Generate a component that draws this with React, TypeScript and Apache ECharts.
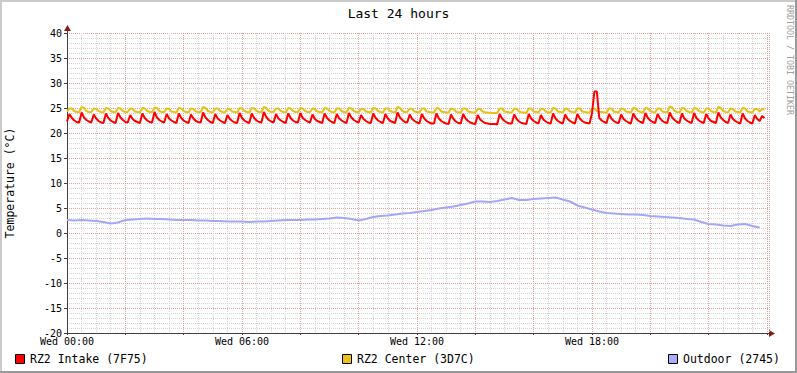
import React, { useEffect, useRef } from "react";
import * as echarts from "echarts";

// ---- data ----
const TITLE = "Last 24 hours";
const Y_NAME = "Temperature (°C)";
const WATERMARK = "RRDTOOL / TOBI OETIKER";
const SERIES_NAMES = ["RZ2 Intake (7F75)", "RZ2 Center (3D7C)", "Outdoor (2745)"];
const SERIES_COLORS = ["#FF0000", "#EAC117", "#A6A6F6"];
const LEGEND_BOX_COLORS = ["#FF0000", "#EAC117", "#AAAAFF"];
const X_LABEL_DAY = "Wed";
const TEMP_STEP_H = 5 / 60; // 5-minute samples
const OUT_STEP_H = 0.25; // 15-minute samples
const X_MAX_H = 24.07;
const Y_MIN = -20;
const Y_MAX = 40;

// RZ2 Intake (one row per hour, 5-minute samples)
const intake = [
  22.3, 23.8, 23.0, 22.5, 22.2, 22.1, 24.1, 23.1, 22.6, 22.3, 22.1, 23.7,
  22.9, 22.4, 22.1, 22.0, 23.9, 23.0, 22.5, 22.2, 22.0, 24.0, 23.1, 22.6,
  22.2, 22.1, 23.6, 22.8, 22.4, 22.2, 22.0, 23.9, 23.0, 22.5, 22.2, 22.1,
  24.2, 23.1, 22.6, 22.3, 22.1, 23.8, 22.9, 22.5, 22.2, 22.0, 23.9, 23.0,
  22.5, 22.2, 22.0, 23.7, 22.9, 22.4, 22.2, 22.1, 24.1, 23.1, 22.6, 22.2,
  22.0, 23.8, 22.9, 22.5, 22.2, 22.0, 23.6, 22.8, 22.4, 22.1, 22.0, 24.0,
  23.0, 22.5, 22.2, 22.0, 23.9, 23.0, 22.5, 22.2, 22.1, 24.2, 23.2, 22.6,
  22.3, 22.1, 23.8, 22.9, 22.5, 22.2, 22.0, 23.9, 23.0, 22.5, 22.2, 22.1,
  24.0, 23.0, 22.6, 22.3, 22.1, 23.7, 22.8, 22.4, 22.2, 22.0, 23.9, 23.0,
  22.5, 22.2, 22.0, 23.8, 22.9, 22.5, 22.2, 22.0, 24.0, 23.1, 22.6, 22.3,
  22.1, 23.6, 22.8, 22.4, 22.1, 22.0, 23.9, 23.0, 22.5, 22.2, 22.0, 23.8,
  22.9, 22.4, 22.2, 22.0, 24.1, 23.1, 22.6, 22.2, 22.1, 23.7, 22.8, 22.4,
  22.1, 21.9, 23.8, 22.9, 22.4, 22.1, 21.9, 21.9, 23.9, 22.9, 22.4, 22.1,
  21.9, 21.8, 23.7, 22.8, 22.3, 22.0, 21.9, 23.8, 22.9, 22.4, 22.1, 21.9,
  21.8, 23.6, 22.7, 22.3, 22.0, 21.9, 21.8, 21.8, 21.8, 21.7, 23.8, 22.9,
  22.4, 22.1, 21.9, 21.9, 23.7, 22.8, 22.3, 22.0, 21.9, 21.8, 23.8, 22.9,
  22.4, 22.1, 21.9, 23.6, 22.7, 22.3, 22.0, 21.9, 23.9, 22.9, 22.4, 22.1,
  21.9, 23.7, 22.8, 22.4, 22.1, 21.9, 23.8, 22.9, 22.4, 22.1, 22.0, 21.9,
  23.9, 28.3, 28.3, 23.0, 22.5, 22.2, 22.0, 23.8, 22.9, 22.4, 22.1, 22.0,
  23.7, 22.8, 22.4, 22.1, 21.9, 23.9, 23.0, 22.5, 22.2, 22.0, 24.0, 23.0,
  22.5, 22.2, 22.0, 23.8, 22.9, 22.4, 22.1, 22.0, 24.1, 23.1, 22.6, 22.2,
  22.0, 23.9, 22.9, 22.5, 22.2, 22.0, 24.0, 23.0, 22.5, 22.2, 22.0, 23.8,
  22.9, 22.4, 22.2, 22.0, 24.1, 23.1, 22.6, 22.2, 22.0, 23.7, 22.8, 22.4,
  22.1, 21.9, 23.9, 22.9, 22.4, 22.1, 21.9, 23.6, 22.8, 22.4, 23.4, 23.0,
];

// RZ2 Center (one row per hour, 5-minute samples)
const center = [
  24.3, 24.9, 24.9, 24.4, 24.2, 24.2, 25.2, 25.0, 24.4, 24.2, 24.2, 24.9,
  24.8, 24.4, 24.2, 24.1, 25.0, 24.9, 24.4, 24.2, 24.2, 25.0, 24.9, 24.4,
  24.2, 24.2, 24.9, 24.8, 24.3, 24.2, 24.1, 25.0, 24.9, 24.4, 24.2, 24.2,
  25.1, 25.0, 24.4, 24.2, 24.2, 24.9, 24.8, 24.3, 24.2, 24.1, 25.0, 24.9,
  24.4, 24.2, 24.1, 24.9, 24.8, 24.3, 24.2, 24.2, 25.2, 25.0, 24.4, 24.2,
  24.1, 24.9, 24.9, 24.4, 24.2, 24.1, 24.8, 24.8, 24.3, 24.2, 24.1, 25.0,
  24.9, 24.4, 24.2, 24.1, 25.0, 24.9, 24.4, 24.2, 24.2, 25.2, 25.0, 24.4,
  24.2, 24.2, 24.9, 24.9, 24.4, 24.2, 24.1, 25.0, 24.9, 24.4, 24.2, 24.2,
  25.0, 24.9, 24.4, 24.2, 24.2, 24.9, 24.8, 24.3, 24.2, 24.1, 25.0, 24.9,
  24.4, 24.2, 24.1, 24.9, 24.9, 24.4, 24.2, 24.1, 25.0, 24.9, 24.4, 24.2,
  24.2, 24.8, 24.8, 24.3, 24.2, 24.1, 25.0, 24.9, 24.4, 24.2, 24.1, 24.9,
  24.9, 24.4, 24.2, 24.1, 25.2, 25.0, 24.4, 24.2, 24.2, 24.9, 24.8, 24.3,
  24.2, 24.1, 24.9, 24.9, 24.3, 24.2, 24.1, 24.1, 25.0, 24.9, 24.3, 24.2,
  24.1, 24.1, 24.9, 24.8, 24.3, 24.1, 24.1, 24.9, 24.9, 24.3, 24.2, 24.1,
  24.1, 24.8, 24.8, 24.3, 24.1, 24.1, 24.0, 24.0, 24.0, 24.0, 24.9, 24.9,
  24.3, 24.2, 24.1, 24.1, 24.9, 24.8, 24.3, 24.1, 24.1, 24.0, 24.9, 24.9,
  24.3, 24.2, 24.1, 24.8, 24.8, 24.3, 24.1, 24.1, 25.0, 24.9, 24.3, 24.2,
  24.1, 24.9, 24.8, 24.3, 24.2, 24.1, 24.9, 24.9, 24.3, 24.2, 24.1, 24.1,
  24.9, 24.9, 24.4, 24.2, 24.2, 24.1, 24.1, 24.9, 24.9, 24.3, 24.2, 24.1,
  24.9, 24.8, 24.3, 24.2, 24.1, 25.0, 24.9, 24.4, 24.2, 24.1, 25.0, 24.9,
  24.4, 24.2, 24.1, 24.9, 24.9, 24.3, 24.2, 24.1, 25.3, 25.1, 24.4, 24.2,
  24.1, 25.0, 24.9, 24.4, 24.2, 24.1, 25.0, 24.9, 24.4, 24.2, 24.1, 24.9,
  24.9, 24.4, 24.2, 24.1, 25.2, 25.0, 24.4, 24.2, 24.1, 24.9, 24.8, 24.3,
  24.2, 24.1, 25.0, 24.9, 24.3, 24.2, 24.1, 24.8, 24.8, 24.3, 24.8, 24.7,
];

// Outdoor (one row per hour, 15-minute samples)
const outdoor = [
  2.6, 2.5, 2.6, 2.5,
  2.4, 2.2, 1.9, 2.1,
  2.6, 2.7, 2.8, 2.9,
  2.8, 2.8, 2.7, 2.6,
  2.6, 2.6, 2.5, 2.5,
  2.4, 2.4, 2.3, 2.3,
  2.3, 2.2, 2.3, 2.3,
  2.4, 2.5, 2.6, 2.6,
  2.6, 2.7, 2.7, 2.8,
  2.9, 3.1, 3.0, 2.8,
  2.5, 2.8, 3.2, 3.4,
  3.5, 3.7, 3.9, 4.0,
  4.2, 4.4, 4.6, 4.9,
  5.1, 5.3, 5.6, 5.9,
  6.3, 6.3, 6.2, 6.4,
  6.7, 7.0, 6.6, 6.6,
  6.8, 6.9, 7.0, 7.1,
  6.7, 6.3, 5.5, 5.1,
  4.7, 4.3, 4.0, 3.9,
  3.8, 3.7, 3.7, 3.6,
  3.4, 3.3, 3.2, 3.1,
  3.0, 2.8, 2.7, 2.2,
  1.8, 1.7, 1.5, 1.4,
  1.7, 1.8, 1.4, 1.1,
];

// ---- layout / style ----
const W = 797;
const H = 373;
const GRID_LEFT = 67;
const GRID_TOP = 33;
const GRID_W = 702;
const GRID_H = 300;
const FONT = "DejaVu Sans Mono";
const AXIS_COLOR = "#404040";
const ARROW_COLOR = "#8B1A1A";
const MAJOR_GRID = "#E3A0A0";
const MINOR_GRID = "#D4D4D4";

export default function App() {
  const ref = useRef<HTMLDivElement>(null);

  useEffect(() => {
    if (!ref.current) return;
    const chart = echarts.init(ref.current, null, { renderer: "svg" });

    const seriesData = [
      intake.map((v, i) => [i * TEMP_STEP_H, v]),
      center.map((v, i) => [i * TEMP_STEP_H, v]),
      outdoor.map((v, i) => [i * OUT_STEP_H, v]),
    ];

    const gridRight = GRID_LEFT + GRID_W;
    const gridBottom = GRID_TOP + GRID_H;

    const legendX = [15, 342, 668];
    const legendY = 359;

    const graphic: any[] = [
      // 3D border
      { type: "rect", shape: { x: 0, y: 0, width: W, height: 2 }, style: { fill: "#CBCBCB" }, silent: true },
      { type: "rect", shape: { x: 0, y: 0, width: 2, height: H }, style: { fill: "#CBCBCB" }, silent: true },
      { type: "rect", shape: { x: 0, y: H - 2, width: W, height: 2 }, style: { fill: "#999999" }, silent: true },
      { type: "rect", shape: { x: W - 2, y: 0, width: 2, height: H }, style: { fill: "#999999" }, silent: true },
      // title
      {
        type: "text",
        x: W / 2,
        y: 13,
        style: { text: TITLE, fontFamily: FONT, fontSize: 13, fill: "#000", align: "center", verticalAlign: "middle" },
      },
      // y axis name
      {
        type: "text",
        x: 10,
        y: GRID_TOP + GRID_H / 2,
        rotation: Math.PI / 2,
        style: { text: Y_NAME, fontFamily: FONT, fontSize: 11.5, fill: "#000", align: "center", verticalAlign: "middle" },
      },
      // watermark
      {
        type: "text",
        x: 789.5,
        y: 60,
        rotation: -Math.PI / 2,
        style: { text: WATERMARK, fontFamily: FONT, fontSize: 8.3, fill: "#A0A0A0", align: "center", verticalAlign: "middle" },
      },
      // axis extensions & arrows
      { type: "line", shape: { x1: GRID_LEFT + 0.5, y1: GRID_TOP, x2: GRID_LEFT + 0.5, y2: GRID_TOP - 4 }, style: { stroke: AXIS_COLOR, lineWidth: 1 } },
      { type: "polygon", shape: { points: [[GRID_LEFT - 3, GRID_TOP - 2], [GRID_LEFT + 0.5, GRID_TOP - 8], [GRID_LEFT + 4, GRID_TOP - 2]] }, style: { fill: ARROW_COLOR } },
      { type: "line", shape: { x1: gridRight, y1: gridBottom + 0.5, x2: gridRight + 2, y2: gridBottom + 0.5 }, style: { stroke: AXIS_COLOR, lineWidth: 1 } },
      { type: "polygon", shape: { points: [[gridRight, gridBottom - 3], [gridRight + 6, gridBottom + 0.5], [gridRight, gridBottom + 4]] }, style: { fill: ARROW_COLOR } },
    ];

    SERIES_NAMES.forEach((name, i) => {
      graphic.push({
        type: "rect",
        shape: { x: legendX[i] + 0.5, y: legendY - 4.5, width: 9, height: 9 },
        style: { fill: LEGEND_BOX_COLORS[i], stroke: "#000", lineWidth: 1 },
      });
      graphic.push({
        type: "text",
        x: legendX[i] + 15,
        y: legendY,
        style: { text: name, fontFamily: FONT, fontSize: 11.5, fill: "#000", align: "left", verticalAlign: "middle" },
      });
    });

    chart.setOption({
      animation: false,
      backgroundColor: "#FFFFFF",
      grid: {
        left: GRID_LEFT,
        top: GRID_TOP,
        width: GRID_W,
        height: GRID_H,
        containLabel: false,
        outerBoundsMode: "none",
      },
      xAxis: {
        type: "value",
        min: 0,
        max: X_MAX_H,
        interval: 2,
        axisLine: { show: true, onZero: false, lineStyle: { color: AXIS_COLOR, width: 1 } },
        axisTick: { show: true, length: 2, lineStyle: { color: AXIS_COLOR } },
        axisLabel: {
          show: true,
          margin: 3,
          fontFamily: FONT,
          fontSize: 10,
          color: "#000",
          showMaxLabel: false,
          formatter: (v: number) => {
            if (v % 6 !== 0 || v >= 24) return "";
            const hh = String(v).padStart(2, "0");
            return `${X_LABEL_DAY} ${hh}:00`;
          },
        },
        splitLine: { show: true, lineStyle: { color: MAJOR_GRID, width: 1, type: [1, 1] } },
        minorTick: { show: false, splitNumber: 4 },
        minorSplitLine: { show: true, lineStyle: { color: MINOR_GRID, width: 1, type: [1, 1] } },
      },
      yAxis: {
        type: "value",
        min: Y_MIN,
        max: Y_MAX,
        interval: 5,
        axisLine: { show: true, onZero: false, lineStyle: { color: AXIS_COLOR, width: 1 } },
        axisTick: { show: true, length: 3, lineStyle: { color: AXIS_COLOR } },
        axisLabel: { show: true, margin: 5, fontFamily: FONT, fontSize: 10, color: "#000" },
        splitLine: { show: true, lineStyle: { color: MAJOR_GRID, width: 1, type: [1, 1] } },
        minorTick: { show: false, splitNumber: 5 },
        minorSplitLine: { show: true, lineStyle: { color: MINOR_GRID, width: 1, type: [1, 1] } },
      },
      graphic,
      series: [
        {
          name: SERIES_NAMES[1],
          type: "line",
          data: seriesData[1],
          showSymbol: false,
          symbol: "none",
          z: 3,
          lineStyle: { color: SERIES_COLORS[1], width: 2 },
        },
        {
          name: SERIES_NAMES[0],
          type: "line",
          data: seriesData[0],
          showSymbol: false,
          symbol: "none",
          z: 4,
          lineStyle: { color: SERIES_COLORS[0], width: 2 },
        },
        {
          name: SERIES_NAMES[2],
          type: "line",
          data: seriesData[2],
          showSymbol: false,
          symbol: "none",
          z: 3,
          lineStyle: { color: SERIES_COLORS[2], width: 2 },
        },
      ],
    });

    return () => chart.dispose();
  }, []);

  return (
    <div
      ref={ref}
      style={{ position: "absolute", left: 0, top: 0, width: W, height: H }}
    />
  );
}
